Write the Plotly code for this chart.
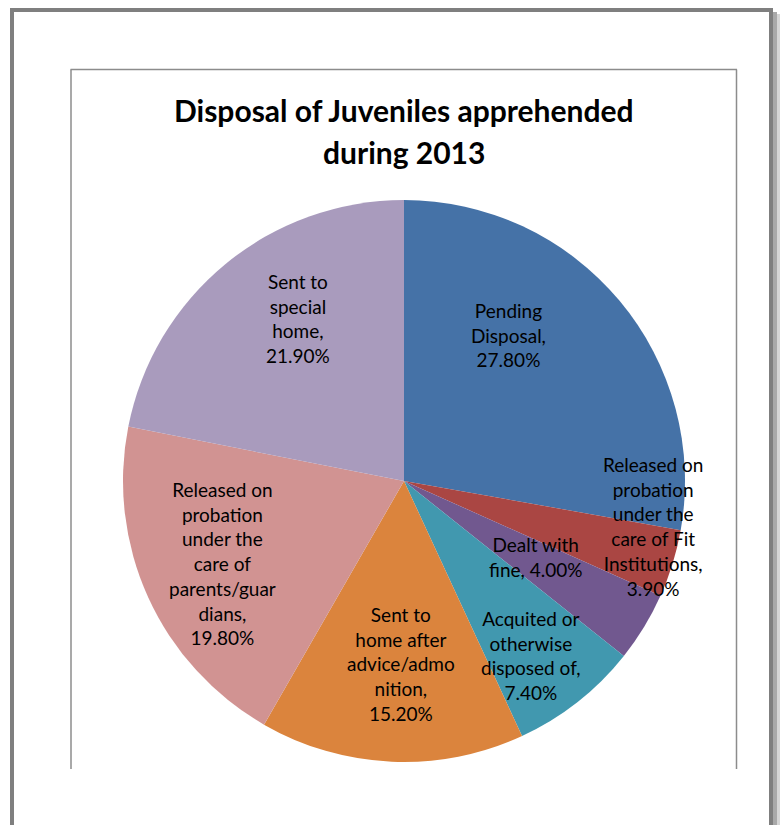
import math
import plotly.graph_objects as go

# ---- data ----
categories = [
    "Pending Disposal",
    "Released on probation under the care of Fit Institutions",
    "Dealt with fine",
    "Acquited or otherwise disposed of",
    "Sent to home after advice/admonition",
    "Released on probation under the care of parents/guardians",
    "Sent to special home",
]
values = [27.8, 3.9, 4.0, 7.4, 15.2, 19.8, 21.9]
label_lines = [
    ["Pending", "Disposal,"],
    ["Released on", "probation", "under the", "care of Fit", "Institutions,"],
    ["Dealt with", "fine,"],
    ["Acquited or", "otherwise", "disposed of,"],
    ["Sent to", "home after", "advice/admo", "nition,"],
    ["Released on", "probation", "under the", "care of", "parents/guar", "dians,"],
    ["Sent to", "special", "home,"],
]
pct_inline = [False, False, True, False, False, False, False]
colors = ["#4572A7", "#AA4643", "#71588F", "#4198AF", "#DB843D", "#D19392", "#A99BBD"]
# label placement styles (radius fraction, angle tweak in degrees)
label_r = [0.64, 0.90, 0.54, 0.77, 0.65, 0.71, 0.69]
label_dtheta = [-14.5, -6.7, -1.3, 2.1, -1.5, 0.2, 6.4]

W, H = 780, 825
CX, CY, R = 404, 481, 281  # pie centre / radius in pixels


def px(x):
    return x / W


def py(y):
    return 1 - y / H


fig = go.Figure()
fig.add_trace(go.Pie(
    labels=categories,
    values=values,
    sort=False,
    direction="clockwise",
    rotation=0,
    marker=dict(colors=colors, line=dict(width=0)),
    textinfo="none",
    hoverinfo="skip",
    showlegend=False,
    domain=dict(x=[px(CX - R), px(CX + R)], y=[py(CY + R), py(CY - R)]),
))

annotations = []
total = sum(values)
cum = 0.0
for i, v in enumerate(values):
    mid = (cum + v / 2) / total * 360 + label_dtheta[i]
    cum += v
    rr = label_r[i] * R
    lx = CX + rr * math.sin(math.radians(mid))
    ly = CY - rr * math.cos(math.radians(mid))
    lines = list(label_lines[i])
    pct = f"{v:.2f}%"
    if pct_inline[i]:
        lines[-1] = lines[-1] + " " + pct
    else:
        lines.append(pct)
    annotations.append(dict(
        x=px(lx), y=py(ly), xref="paper", yref="paper",
        text="<br>".join(lines), showarrow=False, xanchor="center", yanchor="middle",
        align="center", font=dict(family="Lato", size=19, color="#000000"),
    ))

title_lines = ["Disposal of Juveniles apprehended", "during 2013"]
for k, t in enumerate(title_lines):
    annotations.append(dict(
        x=px(404), y=py(110 + 42 * k), xref="paper", yref="paper",
        text=f"<b>{t}</b>", showarrow=False, xanchor="center", yanchor="middle",
        font=dict(family="Lato", size=30, color="#000000"),
    ))

shapes = []
outer = "#7f7f7f"
inner = "#8c8c8c"
# outer page frame (left, top, right) with shadow on the right
shapes.append(dict(type="rect", xref="paper", yref="paper", x0=px(773), x1=px(777), y0=py(825), y1=py(12),
                   fillcolor="#a9a9a9", line=dict(width=0)))
shapes.append(dict(type="rect", xref="paper", yref="paper", x0=px(777), x1=px(780), y0=py(825), y1=py(14),
                   fillcolor="#d6d6d6", line=dict(width=0)))
shapes.append(dict(type="line", xref="paper", yref="paper", x0=px(12), x1=px(12), y0=py(825), y1=py(8),
                   line=dict(color=outer, width=4)))
shapes.append(dict(type="line", xref="paper", yref="paper", x0=px(10), x1=px(773), y0=py(10), y1=py(10),
                   line=dict(color=outer, width=4)))
shapes.append(dict(type="line", xref="paper", yref="paper", x0=px(771), x1=px(771), y0=py(825), y1=py(8),
                   line=dict(color=outer, width=4)))
# inner chart frame (left, top, right)
shapes.append(dict(type="line", xref="paper", yref="paper", x0=px(71), x1=px(71), y0=py(769), y1=py(69.5),
                   line=dict(color=inner, width=1.5)))
shapes.append(dict(type="line", xref="paper", yref="paper", x0=px(70.5), x1=px(737), y0=py(69.5), y1=py(69.5),
                   line=dict(color=inner, width=1.5)))
shapes.append(dict(type="line", xref="paper", yref="paper", x0=px(736.5), x1=px(736.5), y0=py(769), y1=py(69.5),
                   line=dict(color=inner, width=1.5)))

fig.update_layout(
    width=W, height=H,
    margin=dict(l=0, r=0, t=0, b=0),
    paper_bgcolor="#ffffff",
    plot_bgcolor="#ffffff",
    annotations=annotations,
    shapes=shapes,
    showlegend=False,
)

fig.write_html(
    "out.html",
    config={"displayModeBar": False},
    post_script="document.body.style.margin='0';document.body.style.overflow='hidden';",
)
